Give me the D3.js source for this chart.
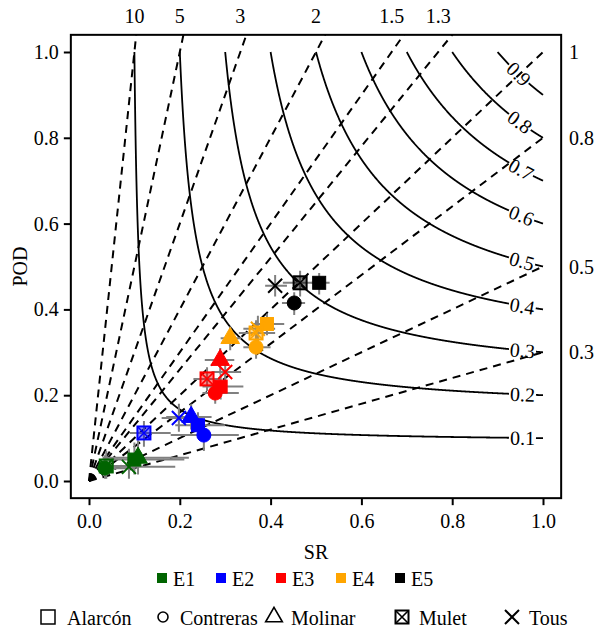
<!DOCTYPE html>
<html>
<head>
<meta charset="utf-8">
<script src="https://cdn.jsdelivr.net/npm/d3@7"></script>
<style>
  body { margin: 0; background: #fff; }
</style>
</head>
<body>
<div id="chart"></div>
<script>

// ---------- data ----------
var events = ['E1', 'E2', 'E3', 'E4', 'E5'];
var eventColors = ['#006400', '#0000ff', '#ff0000', '#ffa500', '#000000'];
var sites = ['Alarcón', 'Contreras', 'Molinar', 'Mulet', 'Tous'];

// one entry per point
var pointEvent = ['E1', 'E1', 'E1', 'E1', 'E1',
                  'E2', 'E2', 'E2', 'E2', 'E2',
                  'E3', 'E3', 'E3', 'E3', 'E3',
                  'E4', 'E4', 'E4', 'E4', 'E4',
                  'E5', 'E5', 'E5', 'E5'];
var pointSite = ['Alarcón', 'Contreras', 'Molinar', 'Mulet', 'Tous',
                 'Alarcón', 'Contreras', 'Molinar', 'Mulet', 'Tous',
                 'Alarcón', 'Contreras', 'Molinar', 'Mulet', 'Tous',
                 'Alarcón', 'Contreras', 'Molinar', 'Mulet', 'Tous',
                 'Alarcón', 'Contreras', 'Mulet', 'Tous'];
var srValues  = [0.100, 0.035, 0.108, 0.038, 0.088,
                 0.240, 0.253, 0.225, 0.121, 0.198,
                 0.290, 0.278, 0.289, 0.260, 0.300,
                 0.392, 0.368, 0.311, 0.368, 0.372,
                 0.507, 0.452, 0.465, 0.410];
var podValues = [0.050, 0.030, 0.054, 0.035, 0.033,
                 0.130, 0.107, 0.149, 0.112, 0.147,
                 0.220, 0.205, 0.282, 0.238, 0.254,
                 0.366, 0.312, 0.333, 0.345, 0.355,
                 0.462, 0.415, 0.462, 0.455];
var srLow   = [0.030, 0.020, 0.030, 0.020, 0.030,
               0.190, 0.180, 0.170, 0.090, 0.160,
               0.250, 0.250, 0.255, 0.230, 0.270,
               0.360, 0.340, 0.290, 0.330, 0.340,
               0.490, 0.425, 0.427, 0.388];
var srHigh  = [0.210, 0.100, 0.220, 0.100, 0.190,
               0.300, 0.330, 0.270, 0.180, 0.250,
               0.340, 0.330, 0.320, 0.290, 0.335,
               0.430, 0.400, 0.335, 0.410, 0.410,
               0.530, 0.476, 0.498, 0.436];
var podLow  = [0.015, 0.005, 0.015, 0.005, 0.005,
               0.100, 0.070, 0.120, 0.080, 0.115,
               0.190, 0.180, 0.250, 0.210, 0.225,
               0.340, 0.285, 0.305, 0.315, 0.325,
               0.435, 0.387, 0.430, 0.430];
var podHigh = [0.090, 0.060, 0.095, 0.070, 0.075,
               0.160, 0.140, 0.180, 0.140, 0.180,
               0.250, 0.235, 0.310, 0.265, 0.285,
               0.390, 0.340, 0.360, 0.375, 0.385,
               0.485, 0.440, 0.490, 0.480];

// background lines of the performance diagram
var biasValues = [0.3, 0.5, 0.8, 1, 1.3, 1.5, 2, 3, 5, 10];
var csiValues = [0.1, 0.2, 0.3, 0.4, 0.5, 0.6, 0.7, 0.8, 0.9];
var xTicks = [0, 0.2, 0.4, 0.6, 0.8, 1.0];
var yTicks = [0, 0.2, 0.4, 0.6, 0.8, 1.0];

// ---------- layout ----------
var width = 598, height = 630;
var fontFamily = '"Liberation Serif", "Times New Roman", "DejaVu Serif", serif';
var fontSize = 20;
var x = d3.scaleLinear().domain([0, 1]).range([89, 543]);
var y = d3.scaleLinear().domain([0, 1]).range([481, 52]);
var box = { x0: x(-0.04), x1: x(1.04), y0: y(1.04), y1: y(-0.04) };

var color = d3.scaleOrdinal().domain(events).range(eventColors);

var svg = d3.select('#chart').append('svg')
  .attr('width', width)
  .attr('height', height)
  .style('font-family', fontFamily);

svg.append('defs').append('clipPath').attr('id', 'plotclip')
  .append('rect')
  .attr('x', box.x0).attr('y', box.y0)
  .attr('width', box.x1 - box.x0).attr('height', box.y1 - box.y0);

var plot = svg.append('g').attr('clip-path', 'url(#plotclip)');
var line = d3.line().x(function (d) { return x(d[0]); }).y(function (d) { return y(d[1]); });

function addText(parent) {
  return parent.append('text')
    .style('font-family', fontFamily)
    .attr('font-size', fontSize)
    .attr('fill', '#000')
    .attr('dominant-baseline', 'central');
}

// frequency bias lines, POD = bias * SR
plot.selectAll('.bias').data(biasValues).enter().append('path')
  .attr('class', 'bias')
  .attr('d', function (b) { return line([[0, 0], [1, b]]); })
  .attr('fill', 'none')
  .attr('stroke', '#000')
  .attr('stroke-width', 2)
  .attr('stroke-dasharray', '8,6');

// CSI contours with the label sitting in a gap near SR = 1
function csiPod(c, sr) { return 1 / (1 / c + 1 - 1 / sr); }

csiValues.forEach(function (c) {
  var pts = d3.range(c, 1.00001, 0.0005).map(function (sr) {
    return [x(sr), y(Math.min(1, csiPod(c, sr)))];
  });
  var lbl = addText(svg).attr('text-anchor', 'middle').text(c.toFixed(1));
  var w = lbl.node().getComputedTextLength() + 2;

  var i0 = pts.findIndex(function (p) { return p[0] >= x(0.925); });
  var arc = 0, i1 = i0;
  while (i1 < pts.length - 1 && arc < w) {
    arc += Math.hypot(pts[i1 + 1][0] - pts[i1][0], pts[i1 + 1][1] - pts[i1][1]);
    i1++;
  }
  var p0 = pts[i0], p1 = pts[i1];
  var ang = Math.atan2(p1[1] - p0[1], p1[0] - p0[0]) * 180 / Math.PI;
  lbl.attr('transform', 'translate(' + ((p0[0] + p1[0]) / 2) + ',' + ((p0[1] + p1[1]) / 2) + ') rotate(' + ang + ')');

  [pts.slice(0, i0 + 1), pts.slice(i1)].forEach(function (seg) {
    if (seg.length < 2) return;
    plot.append('path')
      .attr('d', d3.line()(seg))
      .attr('fill', 'none')
      .attr('stroke', '#000')
      .attr('stroke-width', 1.8);
  });
});

// ---------- points ----------
var points = srValues.map(function (sr, i) {
  return {
    event: pointEvent[i], site: pointSite[i], sr: sr, pod: podValues[i],
    srLo: srLow[i], srHi: srHigh[i], podLo: podLow[i], podHi: podHigh[i]
  };
});

var bars = plot.append('g').attr('stroke', '#808080').attr('stroke-width', 2);
points.forEach(function (d) {
  bars.append('line').attr('x1', x(d.srLo)).attr('x2', x(d.srHi)).attr('y1', y(d.pod)).attr('y2', y(d.pod));
  bars.append('line').attr('x1', x(d.sr)).attr('x2', x(d.sr)).attr('y1', y(d.podLo)).attr('y2', y(d.podHi));
});

function drawMarker(g, site, col, filled) {
  if (site === 'Alarcón') {
    var s = filled ? 13 : 14;
    g.append('rect').attr('x', -s / 2).attr('y', -s / 2).attr('width', s).attr('height', s)
      .attr('fill', filled ? col : 'none').attr('stroke', col).attr('stroke-width', filled ? 1 : 1.5);
  } else if (site === 'Contreras') {
    g.append('circle').attr('r', filled ? 7 : 5)
      .attr('fill', filled ? col : 'none').attr('stroke', col).attr('stroke-width', filled ? 1 : 1.6);
  } else if (site === 'Molinar') {
    g.append('path').attr('d', d3.symbol(d3.symbolTriangle, filled ? 150 : 120)())
      .attr('fill', filled ? col : 'none').attr('stroke', col).attr('stroke-width', filled ? 1 : 1.6);
  } else if (site === 'Mulet') {
    var m = 13;
    g.append('rect').attr('x', -m / 2).attr('y', -m / 2).attr('width', m).attr('height', m)
      .attr('fill', filled ? col : 'none').attr('fill-opacity', 0.45)
      .attr('stroke', col).attr('stroke-width', 2);
    g.append('path').attr('d', 'M' + (-m / 2) + ',' + (-m / 2) + 'L' + (m / 2) + ',' + (m / 2) +
      'M' + (m / 2) + ',' + (-m / 2) + 'L' + (-m / 2) + ',' + (m / 2))
      .attr('stroke', col).attr('stroke-width', 1.6);
  } else {
    var t = 7;
    g.append('path').attr('d', 'M' + (-t) + ',' + (-t) + 'L' + t + ',' + t + 'M' + t + ',' + (-t) + 'L' + (-t) + ',' + t)
      .attr('stroke', col).attr('stroke-width', 2);
  }
}

points.forEach(function (d) {
  var g = plot.append('g').attr('transform', 'translate(' + x(d.sr) + ',' + y(d.pod) + ')');
  drawMarker(g, d.site, color(d.event), true);
});

// ---------- frame and axes ----------
svg.append('rect')
  .attr('x', box.x0).attr('y', box.y0)
  .attr('width', box.x1 - box.x0).attr('height', box.y1 - box.y0)
  .attr('fill', 'none').attr('stroke', '#000').attr('stroke-width', 2);

var xAxis = d3.axisBottom(x).tickValues(xTicks).tickFormat(d3.format('.1f')).tickSizeOuter(0).tickSize(7).tickPadding(9);
var yAxis = d3.axisLeft(y).tickValues(yTicks).tickFormat(d3.format('.1f')).tickSizeOuter(0).tickSize(7).tickPadding(5);

var gx = svg.append('g').attr('transform', 'translate(0,' + box.y1 + ')').call(xAxis);
var gy = svg.append('g').attr('transform', 'translate(' + box.x0 + ',0)').call(yAxis);
[gx, gy].forEach(function (g) {
  g.attr('font-family', null).attr('font-size', null);
  g.select('.domain').remove();
  g.selectAll('.tick line').attr('stroke', '#000').attr('stroke-width', 2);
  g.selectAll('.tick text')
    .style('font-family', fontFamily)
    .attr('font-size', fontSize)
    .attr('fill', '#000');
});

addText(svg).attr('x', (box.x0 + box.x1) / 2).attr('y', 552)
  .attr('text-anchor', 'middle').text('SR');
addText(svg).attr('transform', 'translate(20,' + ((box.y0 + box.y1) / 2) + ') rotate(-90)')
  .attr('text-anchor', 'middle').text('POD');

// bias labels: above the frame for bias > 1, to the right for bias <= 1
biasValues.forEach(function (b) {
  if (b > 1) {
    addText(svg).attr('x', x(1 / b)).attr('y', 16).attr('text-anchor', 'middle').text(b);
  } else {
    addText(svg).attr('x', 569).attr('y', y(b)).text(b);
  }
});

// ---------- legends ----------
var leg1 = svg.append('g');
var leg1X = [162, 221, 281, 341, 400];
events.forEach(function (e, i) {
  leg1.append('rect').attr('x', leg1X[i] - 5).attr('y', 573).attr('width', 10).attr('height', 10).attr('fill', color(e));
  addText(leg1).attr('x', leg1X[i] + 11).attr('y', 579).text(e);
});

var leg2 = svg.append('g');
var leg2X = [48, 163, 274, 402, 512];
sites.forEach(function (s, i) {
  var g = leg2.append('g').attr('transform', 'translate(' + leg2X[i] + ',617)');
  drawMarker(g, s, '#000', false);
  addText(leg2).attr('x', leg2X[i] + (i === 0 ? 19 : 17)).attr('y', 618).text(s);
});

</script>
</body>
</html>
